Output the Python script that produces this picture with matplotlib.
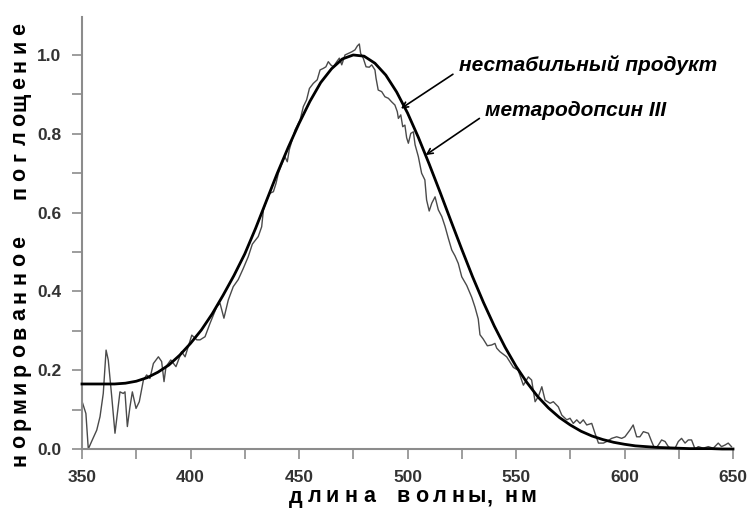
import matplotlib.pyplot as plt
from matplotlib.ticker import MultipleLocator

plt.rcParams['font.family'] = ['Liberation Sans', 'DejaVu Sans']

# fitted template (smooth curve), 5 nm step
fit_nm = list(range(350, 655, 5))
fit_abs = [0.165, 0.165, 0.165, 0.165, 0.167, 0.172, 0.181, 0.195, 0.213, 0.238,
           0.268, 0.302, 0.343, 0.390, 0.440, 0.495, 0.560, 0.630, 0.700, 0.765,
           0.826, 0.882, 0.930, 0.965, 0.990, 1.000, 0.997, 0.979, 0.949, 0.906,
           0.853, 0.791, 0.723, 0.652, 0.579, 0.507, 0.437, 0.372, 0.312, 0.258,
           0.210, 0.169, 0.133, 0.104, 0.080, 0.061, 0.045, 0.033, 0.024, 0.017,
           0.012, 0.008, 0.006, 0.004, 0.003, 0.002, 0.001, 0.001, 0.001, 0.0,
           0.0]

# measured difference spectrum
meas_nm = [350.3, 351.8, 352.9, 354.5, 356.8, 358.3, 359.8, 361.1, 362.1, 363.7,
           365.2, 366.7, 367.5, 369.0, 369.8, 370.9, 372.1, 373.2, 374.9, 376.4,
           378.3, 379.8, 381.3, 382.9, 385.2, 386.7, 387.8, 388.7, 390.9, 393.3,
           395.9, 397.5, 400.6, 402.9, 404.4, 406.7, 409.0, 412.1, 413.6, 415.4,
           417.4, 419.7, 422.0, 424.3, 426.6, 428.5, 431.2, 432.8, 433.6, 435.1,
           436.6, 438.2, 439.4, 440.5, 441.6, 443.5, 444.6, 445.5, 446.6, 448.2,
           450.5, 452.0, 453.5, 454.8, 456.6, 458.4, 459.7, 461.2, 462.4, 463.5,
           464.6, 465.8, 467.4, 468.6, 469.7, 471.2, 472.7, 474.3, 475.8, 476.9,
           477.8, 478.4, 479.6, 480.9, 482.4, 483.5, 485.0, 485.5, 486.5, 488.1,
           489.6, 491.2, 492.7, 494.2, 495.3, 495.8, 496.9, 497.8, 498.8, 499.6,
           500.4, 501.5, 502.7, 503.5, 505.0, 506.5, 508.0, 508.8, 510.0, 511.2,
           512.7, 514.2, 515.8, 517.3, 518.8, 520.4, 521.9, 523.4, 525.0, 527.3,
           529.6, 531.1, 532.6, 533.4, 534.9, 536.8, 538.8, 540.3, 541.1, 542.6,
           545.7, 548.8, 551.0, 553.4, 555.7, 557.2, 558.8, 560.3, 561.9, 563.4,
           565.7, 567.2, 569.5, 571.1, 573.4, 574.9, 576.4, 578.0, 579.5, 581.0,
           582.6, 584.9, 586.4, 588.0, 590.3, 591.8, 594.1, 596.4, 598.7, 600.2,
           602.5, 604.0, 605.6, 607.1, 608.7, 611.0, 612.5, 614.0, 615.6, 617.1,
           618.7, 620.2, 621.7, 623.3, 624.8, 626.3, 627.9, 629.4, 630.9, 632.5,
           634.0, 636.3, 638.6, 640.9, 643.2, 644.7, 646.3, 647.8, 649.3]
meas_abs = [0.116, 0.090, 0.000, 0.020, 0.048, 0.082, 0.141, 0.251, 0.226, 0.133,
            0.040, 0.107, 0.145, 0.141, 0.145, 0.057, 0.107, 0.145, 0.103, 0.120,
            0.175, 0.188, 0.179, 0.217, 0.234, 0.222, 0.171, 0.209, 0.226, 0.209,
            0.247, 0.234, 0.289, 0.277, 0.277, 0.285, 0.319, 0.361, 0.370, 0.332,
            0.378, 0.412, 0.430, 0.458, 0.488, 0.520, 0.539, 0.564, 0.607, 0.632,
            0.649, 0.653, 0.674, 0.700, 0.716, 0.742, 0.729, 0.759, 0.780, 0.810,
            0.835, 0.869, 0.886, 0.915, 0.928, 0.937, 0.962, 0.966, 0.970, 0.983,
            0.975, 0.970, 0.983, 0.992, 0.975, 1.000, 1.004, 1.008, 1.013, 1.023,
            1.028, 1.004, 0.992, 0.970, 0.969, 0.975, 0.962, 0.941, 0.911, 0.907,
            0.894, 0.890, 0.881, 0.873, 0.856, 0.839, 0.848, 0.818, 0.822, 0.790,
            0.776, 0.801, 0.805, 0.772, 0.742, 0.700, 0.683, 0.632, 0.604, 0.624,
            0.640, 0.607, 0.590, 0.565, 0.535, 0.505, 0.490, 0.471, 0.437, 0.415,
            0.385, 0.360, 0.330, 0.290, 0.279, 0.262, 0.264, 0.268, 0.256, 0.247,
            0.234, 0.207, 0.200, 0.162, 0.183, 0.175, 0.120, 0.133, 0.158, 0.124,
            0.116, 0.120, 0.107, 0.086, 0.074, 0.078, 0.065, 0.074, 0.065, 0.074,
            0.061, 0.065, 0.040, 0.015, 0.015, 0.019, 0.027, 0.031, 0.027, 0.031,
            0.048, 0.061, 0.031, 0.031, 0.044, 0.040, 0.019, 0.000, 0.010, 0.023,
            0.019, 0.006, 0.000, 0.002, 0.019, 0.027, 0.015, 0.023, 0.023, 0.000,
            0.006, 0.002, 0.006, 0.002, 0.015, 0.006, 0.010, 0.015, 0.006]

x_ticks = [350, 400, 450, 500, 550, 600, 650]
y_ticks = [0.0, 0.2, 0.4, 0.6, 0.8, 1.0]

axis_gray = '#8c8c8c'
W, H = 747, 515


def tracked_text(fig, s, x0, y0, pitch, gap, vertical=False, **kw):
    """Draw s letter by letter with a fixed pitch (pixels), like letter-spaced type."""
    pos = 0.0
    prev = ''
    for ch in s:
        if ch == ' ':
            if prev != ',':
                pos += gap
        elif ch == ',':
            at = pos - 0.3 * pitch
            if vertical:
                fig.text(x0 / W, 1 - (y0 - at) / H, ch, rotation=90,
                         ha='center', va='center', **kw)
            else:
                fig.text((x0 + at) / W, 1 - y0 / H, ch, ha='center', va='center', **kw)
            pos += 0.85 * pitch
        else:
            if vertical:
                fig.text(x0 / W, 1 - (y0 - pos) / H, ch, rotation=90,
                         ha='center', va='center', **kw)
            else:
                fig.text((x0 + pos) / W, 1 - y0 / H, ch, ha='center', va='center', **kw)
            pos += pitch
        prev = ch


fig = plt.figure(figsize=(W / 100, H / 100), dpi=100)
ax = fig.add_axes([82 / W, 66 / H, 651 / W, 432 / H])

ax.plot(meas_nm, meas_abs, color='#4a4a4a', lw=1.0, clip_on=False, zorder=2)
ax.plot(fit_nm, fit_abs, color='black', lw=2.0, clip_on=False, zorder=3)

ax.set_xlim(350, 650)
ax.set_ylim(0, 1.0964)
ax.set_xticks(x_ticks)
ax.set_yticks(y_ticks)
ax.set_yticklabels([f'{v:.1f}' for v in y_ticks])
ax.xaxis.set_minor_locator(MultipleLocator(25))
ax.yaxis.set_minor_locator(MultipleLocator(0.1))

for side in ('top', 'right'):
    ax.spines[side].set_visible(False)
for side in ('left', 'bottom'):
    ax.spines[side].set_color(axis_gray)
    ax.spines[side].set_linewidth(1.5)

ax.tick_params(which='both', direction='out', length=7, width=1.2,
               color=axis_gray, labelsize=12.5, labelcolor='#333333')
ax.tick_params(axis='x', pad=8)
ax.tick_params(axis='y', pad=8)
for lbl in ax.get_xticklabels() + ax.get_yticklabels():
    lbl.set_fontweight('bold')

# labels for the two curves
ax.text(523.7, 0.96, 'нестабильный продукт', fontsize=15, fontweight='bold',
        fontstyle='italic', ha='left', va='baseline')
ax.annotate('', xy=(495.9, 0.86), xytext=(522.0, 0.955),
            arrowprops=dict(arrowstyle='->', color='black', lw=1.2))
ax.text(535.7, 0.846, 'метародопсин III', fontsize=15, fontweight='bold',
        fontstyle='italic', ha='left', va='baseline')
ax.annotate('', xy=(507.3, 0.742), xytext=(534.2, 0.843),
            arrowprops=dict(arrowstyle='->', color='black', lw=1.2))

# letter-spaced axis titles
tracked_text(fig, 'длина волны, нм', 296, 497, 18.3, 16,
             fontsize=15.5, fontweight='bold')
tracked_text(fig, 'нормированное поглощение', 20, 460, 18.2, 31,
             vertical=True, fontsize=15.5, fontweight='bold')

fig.savefig('out.png', dpi=100)
